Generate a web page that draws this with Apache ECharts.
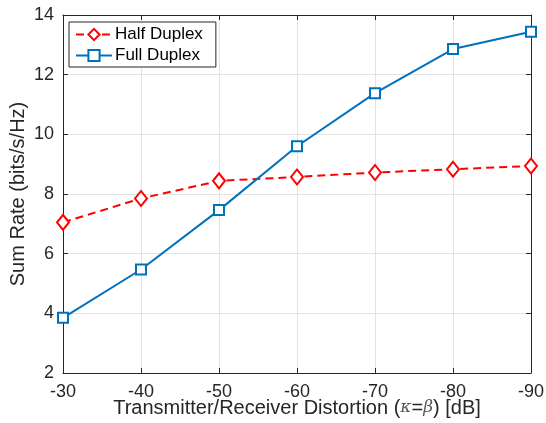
<!DOCTYPE html>
<html><head><meta charset="utf-8">
<script src="https://cdn.jsdelivr.net/npm/echarts@6/dist/echarts.min.js"></script>
<style>html,body{margin:0;padding:0;background:#fff}#c{width:546px;height:423px}</style>
</head><body><div id="c"></div>
<script>
const distortion = [-30, -40, -50, -60, -70, -80, -90];
const halfDuplex = [7.05, 7.85, 8.44, 8.57, 8.72, 8.83, 8.94];
const fullDuplex = [3.85, 5.47, 7.46, 9.60, 11.38, 12.86, 13.44];
const seriesNames = ['Half Duplex', 'Full Duplex'];
const xTitle = 'Transmitter/Receiver Distortion';
const yTitle = 'Sum Rate (bits/s/Hz)';

const F = 'Liberation Sans, Arial, Helvetica, sans-serif';
const axisColor = '#262626';
const chart = echarts.init(document.getElementById('c'), null, {renderer: 'canvas'});
const pairs = arr => arr.map((v, i) => [distortion[i], v]);
const baseX = {
  type: 'value', min: -90, max: -30, interval: 10, inverse: true,
  axisLine: {show: true, onZero: false, lineStyle: {color: axisColor, width: 1}},
  axisTick: {show: true, inside: true, length: 5, lineStyle: {color: axisColor}},
};
const baseY = {
  type: 'value', min: 2, max: 14, interval: 2,
  axisLine: {show: true, onZero: false, lineStyle: {color: axisColor, width: 1}},
  axisTick: {show: true, inside: true, length: 5, lineStyle: {color: axisColor}},
};
chart.setOption({
  animation: false,
  backgroundColor: '#fff',
  grid: {left: 63, right: 15, top: 15, bottom: 50, containLabel: false, outerBoundsMode: 'none'},
  xAxis: [
    Object.assign({}, baseX, {
      position: 'bottom',
      axisLabel: {color: axisColor, fontSize: 18, fontFamily: F, margin: 10},
      splitLine: {show: true, lineStyle: {color: '#e3e3e3', width: 1}},
      name: '{a|' + xTitle + ' (}{i|κ}{a|=}{i|β}{a|) [dB]}',
      nameLocation: 'middle', nameGap: 35, nameMoveOverlap: false,
      nameTextStyle: {verticalAlign: 'middle', align: 'center', rich: {
        a: {fontSize: 20, fontFamily: F, color: axisColor},
        i: {fontSize: 17, fontFamily: 'DejaVu Serif, serif', fontStyle: 'italic', color: '#555'}
      }}
    }),
    Object.assign({}, baseX, {position: 'top', axisLabel: {show: false}, splitLine: {show: false}})
  ],
  yAxis: [
    Object.assign({}, baseY, {
      position: 'left',
      axisLabel: {color: axisColor, fontSize: 18, fontFamily: F, margin: 9},
      splitLine: {show: true, lineStyle: {color: '#e3e3e3', width: 1}},
      name: yTitle, nameLocation: 'middle', nameGap: 45, nameRotate: 90, nameMoveOverlap: false,
      nameTextStyle: {fontSize: 20, fontFamily: F, color: axisColor, verticalAlign: 'middle', align: 'center'}
    }),
    Object.assign({}, baseY, {position: 'right', axisLabel: {show: false}, splitLine: {show: false}})
  ],
  legend: {
    orient: 'vertical', left: 69, top: 22, padding: [4, 13, 3, 6], itemGap: 4,
    itemWidth: 36, itemHeight: 14,
    borderColor: axisColor, borderWidth: 1, backgroundColor: '#fff',
    textStyle: {fontSize: 17, fontFamily: F, color: '#000', padding: [0, 0, 0, -2]},
    data: seriesNames
  },
  series: [
    {
      name: seriesNames[0], type: 'line', data: pairs(halfDuplex),
      symbol: 'diamond', symbolSize: [12, 15], showAllSymbol: true,
      lineStyle: {color: '#ff0000', width: 2, type: [8, 5]},
      itemStyle: {color: '#fff', borderColor: '#ff0000', borderWidth: 2},
      z: 3
    },
    {
      name: seriesNames[1], type: 'line', data: pairs(fullDuplex),
      symbol: 'rect', symbolSize: 10, showAllSymbol: true,
      lineStyle: {color: '#0072bd', width: 2},
      itemStyle: {color: '#fff', borderColor: '#0072bd', borderWidth: 2},
      z: 4
    }
  ]
});
</script></body></html>
